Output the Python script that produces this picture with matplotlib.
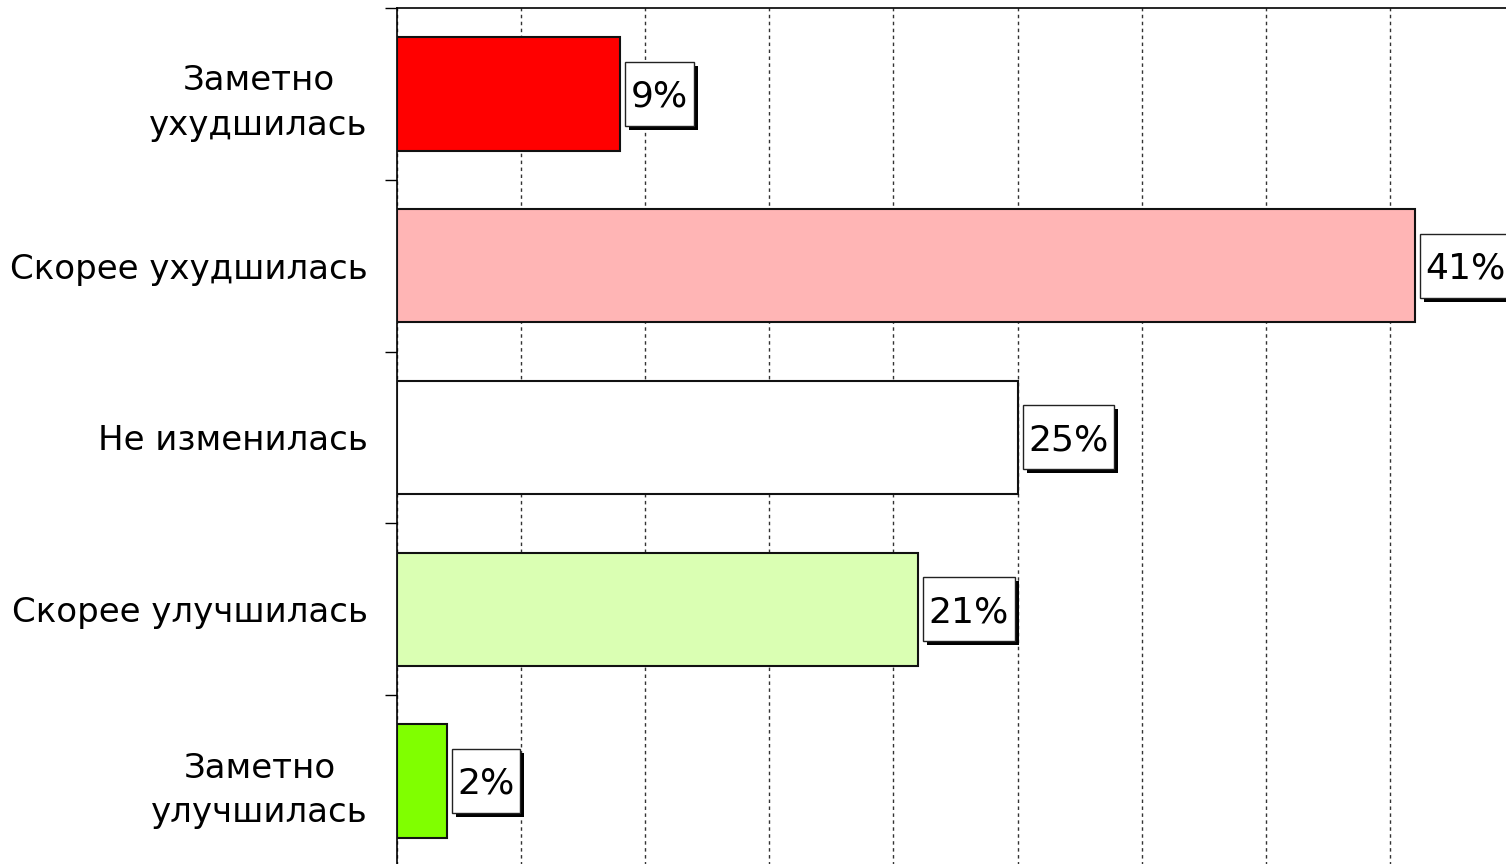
import numpy as np
import matplotlib
matplotlib.use("Agg")
import matplotlib.pyplot as plt
from matplotlib.patches import Rectangle
from matplotlib.ticker import MultipleLocator, FixedLocator

categories = ["Заметно\nухудшилась", "Скорее ухудшилась", "Не изменилась",
              "Скорее улучшилась", "Заметно\nулучшилась"]
values = [9, 41, 25, 21, 2]
labels = ["9%", "41%", "25%", "21%", "2%"]
colors = ["#ff0000", "#ffb5b5", "#ffffff", "#daffb3", "#80ff00"]

plt.rcParams['font.family'] = ['DejaVu Sans']

fig = plt.figure(figsize=(15.06, 8.64), dpi=100)
ax = fig.add_axes([397/1506, -3/864, 1 - 397/1506, 859/864])

y = np.arange(len(categories))
ax.barh(y, values, height=0.66, color=colors, edgecolor="#111111", linewidth=1.5, zorder=3)

ax.set_xlim(0, 44.68)
ax.set_ylim(4.5, -0.5)
ax.xaxis.set_major_locator(MultipleLocator(5))
ax.grid(axis='x', color='#333333', linestyle=(0, (2.5, 2.5)), linewidth=1, zorder=0)
ax.set_xticklabels([])
ax.tick_params(axis='x', length=0)

ax.set_yticks(y)
ax.set_yticklabels(categories, fontsize=24.5)
for lab in ax.get_yticklabels():
    lab.set_multialignment('center')
    lab.set_linespacing(1.45)
ax.yaxis.set_minor_locator(FixedLocator(np.arange(-0.5, 5, 1)))
ax.tick_params(axis='y', which='major', length=0, pad=21)
ax.tick_params(axis='y', which='minor', length=9, width=1)

for s in ['right', 'bottom']:
    ax.spines[s].set_visible(False)
ax.spines['left'].set_linewidth(1.2)
ax.spines['top'].set_linewidth(1.2)

# value labels in boxes with a drop shadow
texts = []
for yi, v, lab in zip(y, values, labels):
    t = ax.annotate(lab, (v, yi), xytext=(7.6, -2), textcoords='offset points',
                    ha='left', va='center', fontsize=26, zorder=6)
    texts.append(t)

fig.canvas.draw()
r = fig.canvas.get_renderer()
inv = ax.transData.inverted()
padx, half_h, sh = 5.5, 32, 4
for t, yi in zip(texts, y):
    bb = t.get_window_extent(r)
    yc = ax.transData.transform((0, yi))[1]
    x0, y0 = inv.transform((bb.x0 - padx, yc - half_h))
    x1, y1 = inv.transform((bb.x1 + padx, yc + half_h))
    sx0, sy0 = inv.transform((bb.x0 - padx + sh, yc - half_h - sh))
    sx1, sy1 = inv.transform((bb.x1 + padx + sh, yc + half_h - sh))
    ax.add_patch(Rectangle((sx0, sy0), sx1 - sx0, sy1 - sy0, fc='black', ec='none',
                           zorder=4, clip_on=False))
    ax.add_patch(Rectangle((x0, y0), x1 - x0, y1 - y0, fc='white', ec='#222222', lw=1,
                           zorder=5, clip_on=False))

fig.savefig("out.png", dpi=100)
